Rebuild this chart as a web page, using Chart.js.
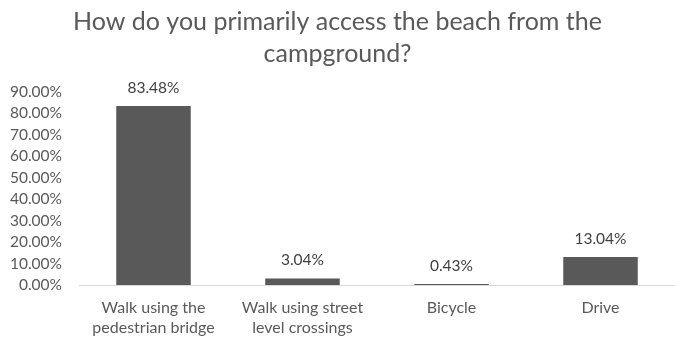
<!DOCTYPE html>
<html>
<head>
<meta charset="utf-8">
<script src="https://cdn.jsdelivr.net/npm/chart.js@4"></script>
<style>
  body { margin: 0; background: #fff; }
  #wrap { width: 675px; height: 337px; }
</style>
</head>
<body>
<div id="wrap"><canvas id="chart" width="675" height="337"></canvas></div>
<script>
// categories (multi-line labels) and the share of answers for each one
const categories = [
  ["Walk using the", "pedestrian bridge"],
  ["Walk using street", "level crossings"],
  ["Bicycle"],
  ["Drive"]
];
const shares = [83.48, 3.04, 0.43, 13.04];
const titleLines = ["How do you primarily access the beach from the", "campground?"];

const FONT = "Lato, 'Liberation Sans', sans-serif";

// draws the percentage above each bar
const valueLabels = {
  id: "valueLabels",
  afterDatasetsDraw(chart) {
    const ctx = chart.ctx;
    const meta = chart.getDatasetMeta(0);
    ctx.save();
    ctx.font = "15.5px " + FONT;
    ctx.fillStyle = "#404040";
    ctx.textAlign = "center";
    ctx.textBaseline = "middle";
    meta.data.forEach((bar, i) => {
      ctx.fillText(shares[i].toFixed(2) + "%", bar.x, bar.y - 18);
    });
    ctx.restore();
  }
};

function makeChart() {
  const ctx = document.getElementById("chart");
  return new Chart(ctx, {
    type: "bar",
    data: {
      labels: categories,
      datasets: [{
        label: "Share",
        data: shares,
        backgroundColor: "#595959",
        barPercentage: 0.5,
        categoryPercentage: 1
      }]
    },
    options: {
      responsive: false,
      animation: false,
      layout: { padding: 0 },
      plugins: {
        legend: { display: false },
        tooltip: { enabled: false },
        title: {
          display: true,
          text: titleLines,
          color: "#595959",
          font: { family: FONT, size: 25, weight: "normal", lineHeight: 1.28 },
          padding: { top: 5.5, bottom: 22.5 }
        }
      },
      scales: {
        y: {
          min: 0,
          max: 90,
          ticks: {
            stepSize: 10,
            autoSkip: false,
            padding: 17,
            color: "#595959",
            font: { family: FONT, size: 15.5 },
            callback: (v) => v.toFixed(2) + "%"
          },
          grid: { display: false, drawTicks: false },
          border: { display: false },
          afterFit: (scale) => { scale.width = 79; }
        },
        x: {
          ticks: {
            padding: 13,
            color: "#595959",
            font: { family: FONT, size: 16, lineHeight: 1.25 },
            maxRotation: 0,
            autoSkip: false
          },
          grid: { display: false, drawTicks: false },
          border: { color: "#d9d9d9", width: 1 },
          afterFit: (scale) => { scale.height = 52; }
        }
      }
    },
    plugins: [valueLabels]
  });
}

document.addEventListener("DOMContentLoaded", () => makeChart());
</script>
</body>
</html>
